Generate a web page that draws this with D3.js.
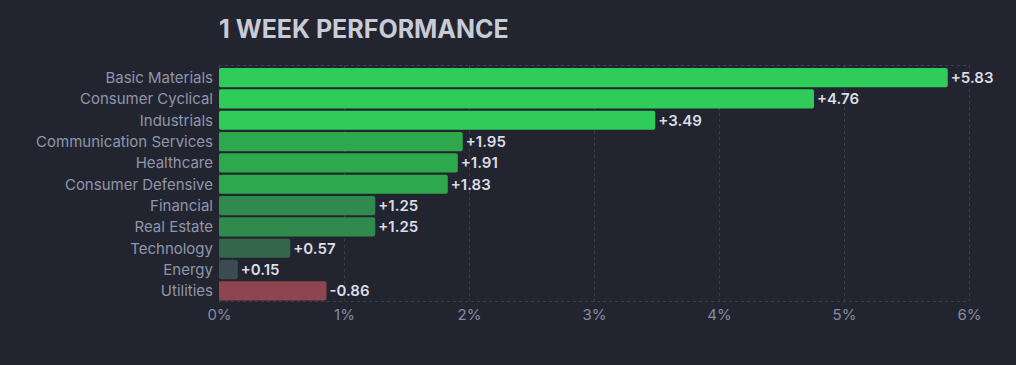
<!DOCTYPE html>
<html><head><meta charset="utf-8">
<script src="https://cdn.jsdelivr.net/npm/d3@7"></script>
<style>
html,body{margin:0;padding:0;background:#22252f;}
svg{display:block;font-family:Inter,"Noto Sans",sans-serif;}
</style></head><body>
<svg id="c" width="1016" height="365"></svg>
<script>
const categories = ["Basic Materials","Consumer Cyclical","Industrials","Communication Services","Healthcare","Consumer Defensive","Financial","Real Estate","Technology","Energy","Utilities"];
const values = [5.83,4.76,3.49,1.95,1.91,1.83,1.25,1.25,0.57,0.15,-0.86];
const colors = ["#30cc5a","#30cc5a","#30cc5a","#2ea84c","#2ea84c","#2ea84c","#308a4e","#308a4e","#35654a","#3c4a52","#8e4550"];
const xTicks = [0,1,2,3,4,5,6];
const title = "1 WEEK PERFORMANCE";

const svg = d3.select("#c");
const m = {left:219, right:47, top:65, bottom:64};
const W = 1016, H = 365;
const x = d3.scaleLinear().domain([0,6]).range([m.left, W - m.right]);
const y = d3.scaleBand().domain(categories).range([68, 300.5]).paddingInner(0.1).paddingOuter(0);

svg.append("text").attr("x", m.left).attr("y", 38)
  .attr("fill","#c9cbd6").attr("font-size",25).attr("font-weight",700)
  .text(title);

// grid
const g = svg.append("g");
g.selectAll("line.v").data(xTicks).join("line")
  .attr("x1", d=>x(d)+0.5).attr("x2", d=>x(d)+0.5)
  .attr("y1", m.top).attr("y2", H - m.bottom)
  .attr("stroke","#3a3e4c").attr("stroke-dasharray","3,3");
[m.top, H - m.bottom].forEach(yy=>{
  g.append("line").attr("x1", m.left).attr("x2", W - m.right)
   .attr("y1", yy+0.5).attr("y2", yy+0.5)
   .attr("stroke","#3a3e4c").attr("stroke-dasharray","3,3");
});

// x axis
const xa = svg.append("g").attr("transform",`translate(0,${H - m.bottom})`)
  .call(d3.axisBottom(x).tickValues(xTicks).tickFormat(d=>d+"%").tickSize(0).tickPadding(8));
xa.select(".domain").remove();
xa.selectAll("text").attr("fill","#868ba3").attr("font-size",15).attr("font-family","Inter,'Noto Sans',sans-serif");

// y axis
const ya = svg.append("g").attr("transform",`translate(${m.left},0)`)
  .call(d3.axisLeft(y).tickSize(0).tickPadding(6));
ya.select(".domain").remove();
ya.selectAll("text").attr("fill","#9095ae").attr("font-size",15).attr("dy","0.36em").attr("font-family","Inter,'Noto Sans',sans-serif");

// bars
const data = categories.map((c,i)=>({c, v:values[i], col:colors[i]}));
svg.selectAll("rect.bar").data(data).join("rect")
  .attr("x", x(0)).attr("y", d=>y(d.c))
  .attr("width", d=>x(Math.abs(d.v)) - x(0))
  .attr("height", y.bandwidth())
  .attr("rx",2).attr("fill", d=>d.col);

svg.selectAll("text.val").data(data).join("text")
  .attr("x", d=>x(Math.abs(d.v)) + 3)
  .attr("y", d=>y(d.c) + y.bandwidth()/2)
  .attr("dy","0.36em")
  .attr("fill","#dcdde5").attr("font-size",15).attr("font-weight",600)
  .text(d=>(d.v>0?"+":"") + d3.format(".2f")(d.v).replace("−","-"));
</script>
</body></html>
